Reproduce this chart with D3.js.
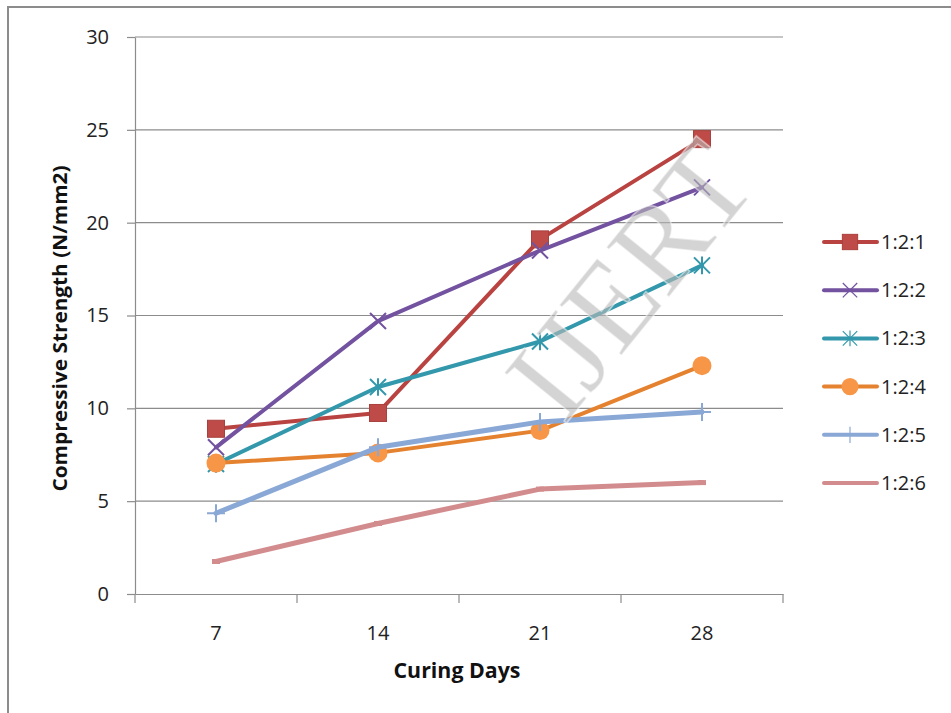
<!DOCTYPE html>
<html>
<head>
<meta charset="utf-8">
<script src="https://cdn.jsdelivr.net/npm/d3@7/dist/d3.min.js"></script>
<style>
  html, body { margin: 0; padding: 0; background: #fff; }
  svg { display: block; font-family: "Open Sans", "Liberation Sans", sans-serif; }
</style>
</head>
<body>
<svg id="chart" width="951" height="713"></svg>
<script>
// Curing ages (days) on the category axis
const days = ["7", "14", "21", "28"];
// Mix ratios shown in the legend
const mixes = ["1:2:1", "1:2:2", "1:2:3", "1:2:4", "1:2:5", "1:2:6"];
// Compressive strength (N/mm2) per mix, one value per curing age
const mix121 = [8.9, 9.75, 19.1, 24.5];
const mix122 = [7.9, 14.7, 18.5, 21.9];
const mix123 = [7.0, 11.15, 13.6, 17.7];
const mix124 = [7.05, 7.6, 8.8, 12.3];
const mix125 = [4.35, 7.9, 9.27, 9.8];
const mix126 = [1.75, 3.8, 5.65, 6.0];
const yTicks = [0, 5, 10, 15, 20, 25, 30];
const colors = ["#be4b48", "#7d5fa0", "#4aacc5", "#f79646", "#95b3d7", "#d99795"];
const lineColors = ["#b94341", "#7352a0", "#3398ab", "#e5822f", "#8aa8d6", "#d38c8d"];
const markers = ["square", "x", "star", "circle", "plus", "dash"];

const seriesValues = [mix121, mix122, mix123, mix124, mix125, mix126];
const series = mixes.map((name, i) => ({
  name, values: seriesValues[i], color: lineColors[i], marker: markers[i]
}));

const svg = d3.select("#chart");

// outer frame
svg.append("rect")
  .attr("x", 8).attr("y", 7).attr("width", 960).attr("height", 720)
  .attr("fill", "none").attr("stroke", "#8c8c8c").attr("stroke-width", 2);

const plot = { left: 135, right: 783, top: 37, bottom: 594 };

const x = d3.scaleBand().domain(days).range([plot.left, plot.right]);
const y = d3.scaleLinear().domain([0, 30]).range([plot.bottom, plot.top]);

// horizontal gridlines
svg.append("g").selectAll("line").data(yTicks.filter(t => t > 0)).join("line")
  .attr("x1", plot.left).attr("x2", plot.right)
  .attr("y1", d => y(d)).attr("y2", d => y(d))
  .attr("stroke", "#8c8c8c").attr("stroke-width", 1.2);

// y axis
const yAxis = svg.append("g")
  .attr("transform", `translate(${plot.left},0)`)
  .call(d3.axisLeft(y).tickValues(yTicks).tickSize(8).tickPadding(18).tickSizeOuter(0));
yAxis.select(".domain").attr("stroke", "#8c8c8c").attr("stroke-width", 1.2);
yAxis.selectAll(".tick line").attr("stroke", "#8c8c8c").attr("stroke-width", 1.2);
yAxis.selectAll(".tick text").attr("font-size", 20).attr("fill", "#222")
  .attr("font-family", "'Open Sans', sans-serif");

// x axis: ticks sit on the category boundaries
const xAxis = svg.append("g")
  .attr("transform", `translate(0,${plot.bottom})`)
  .call(d3.axisBottom(x).tickSize(0).tickPadding(32));
xAxis.select(".domain").attr("stroke", "#8c8c8c").attr("stroke-width", 1.2);
xAxis.selectAll(".tick text").attr("font-size", 20).attr("fill", "#222")
  .attr("font-family", "'Open Sans', sans-serif");
const bounds = days.map(d => x(d)).concat([x(days[days.length - 1]) + x.bandwidth()]);
xAxis.selectAll(".bound").data(bounds).join("line").attr("class", "bound")
  .attr("x1", d => d).attr("x2", d => d).attr("y1", 0).attr("y2", 9)
  .attr("stroke", "#8c8c8c").attr("stroke-width", 1.2);

// axis titles
svg.append("text")
  .attr("x", 457).attr("y", 678).attr("text-anchor", "middle")
  .attr("font-size", 21).attr("font-weight", "bold").attr("fill", "#111")
  .attr("textLength", 127).attr("lengthAdjust", "spacingAndGlyphs")
  .text("Curing Days");
svg.append("text")
  .attr("transform", `translate(67,${(plot.top + plot.bottom) / 2 + 13}) rotate(-90)`)
  .attr("text-anchor", "middle")
  .attr("font-size", 20).attr("font-weight", "bold").attr("fill", "#111")
  .attr("textLength", 326).attr("lengthAdjust", "spacingAndGlyphs")
  .text("Compressive Strength (N/mm2)");

// marker drawing helper
function drawMarker(g, type, color, cx, cy, legend) {
  const s = legend ? 0.9 : 1;
  if (type === "square") {
    const h = 8.5 * s;
    g.append("rect").attr("x", cx - h).attr("y", cy - h).attr("width", 2 * h).attr("height", 2 * h)
      .attr("fill", colors[0]).attr("stroke", "#a8403d").attr("stroke-width", 1);
  } else if (type === "circle") {
    g.append("circle").attr("cx", cx).attr("cy", cy).attr("r", 9.5 * s).attr("fill", colors[3]);
  } else if (type === "x") {
    const h = 8 * s;
    g.append("path").attr("d", `M${cx - h},${cy - h}L${cx + h},${cy + h}M${cx - h},${cy + h}L${cx + h},${cy - h}`)
      .attr("stroke", color).attr("stroke-width", legend ? 1.2 : 2).attr("fill", "none");
  } else if (type === "star") {
    const h = 8 * s;
    g.append("path").attr("d", `M${cx - h},${cy - h}L${cx + h},${cy + h}M${cx - h},${cy + h}L${cx + h},${cy - h}M${cx},${cy - h * 1.1}L${cx},${cy + h * 1.1}`)
      .attr("stroke", color).attr("stroke-width", legend ? 1.2 : 2).attr("fill", "none");
  } else if (type === "plus") {
    const h = 9 * s;
    g.append("path").attr("d", `M${cx - h},${cy}L${cx + h},${cy}M${cx},${cy - h}L${cx},${cy + h}`)
      .attr("stroke", color).attr("stroke-width", legend ? 1.2 : 2).attr("fill", "none");
  } else if (type === "dash" && !legend) {
    g.append("path").attr("d", `M${cx - 4},${cy}L${cx + 4},${cy}`)
      .attr("stroke", color).attr("stroke-width", 5).attr("fill", "none");
  }
}

const line = d3.line()
  .x((d, i) => x(days[i]) + x.bandwidth() / 2)
  .y(d => y(d));

// series lines, then markers
const gSeries = svg.append("g");
series.forEach(s => {
  const g = gSeries.append("g");
  g.append("path").attr("d", line(s.values))
    .attr("fill", "none").attr("stroke", s.color)
    .attr("stroke-width", s.marker === "plus" || s.marker === "dash" ? 5 : 4)
    .attr("stroke-linejoin", "round").attr("stroke-linecap", "round");
  s.values.forEach((v, i) => drawMarker(g, s.marker, s.color, x(days[i]) + x.bandwidth() / 2, y(v), false));
});

// translucent watermark over the plot
svg.append("text")
  .attr("transform", "translate(640,288) rotate(-51)")
  .attr("text-anchor", "middle").attr("dominant-baseline", "middle")
  .attr("font-family", "'Liberation Serif', 'DejaVu Serif', serif")
  .attr("font-size", 122)
  .attr("fill", "#b8b8b8").attr("fill-opacity", 0.6)
  .attr("stroke", "#ffffff").attr("stroke-opacity", 0.5).attr("stroke-width", 1.5)
  .text("IJERT");

// legend
const legend = svg.append("g");
series.forEach((s, i) => {
  const ly = 242 + i * 48.2;
  const g = legend.append("g");
  g.append("line").attr("x1", 824).attr("x2", 877).attr("y1", ly).attr("y2", ly)
    .attr("stroke", s.color).attr("stroke-width", 4).attr("stroke-linecap", "round");
  drawMarker(g, s.marker, s.color, 850, ly, true);
  g.append("text").attr("x", 881).attr("y", ly).attr("dy", "0.35em")
    .attr("font-size", 20).attr("fill", "#222").text(s.name);
});
</script>
</body>
</html>
